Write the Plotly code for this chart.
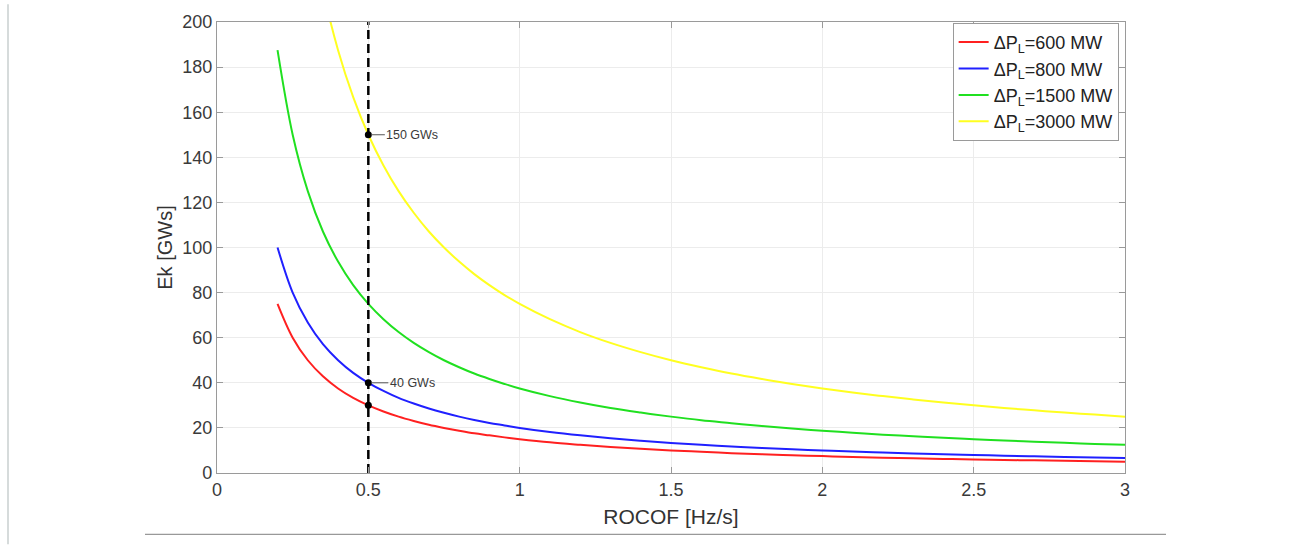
import plotly.graph_objects as go

# ROCOF sample points [Hz/s]
rocof = [0.2, 0.25, 0.3, 0.35, 0.4, 0.45, 0.5, 0.55, 0.6, 0.65, 0.7, 0.75, 0.8, 0.85,
         0.9, 0.95, 1.0, 1.1, 1.2, 1.3, 1.4, 1.5, 1.6, 1.7, 1.8, 1.9, 2.0, 2.1, 2.2,
         2.3, 2.4, 2.5, 2.6, 2.7, 2.8, 2.9, 3.0]

# Kinetic energy Ek [GWs] for each load step
ek_600 = [75, 60, 50, 42.9, 37.5, 33.3, 30, 27.3, 25, 23.1, 21.4, 20, 18.75, 17.6,
          16.7, 15.8, 15, 13.6, 12.5, 11.5, 10.7, 10, 9.4, 8.8, 8.3, 7.9, 7.5, 7.1,
          6.8, 6.5, 6.25, 6, 5.8, 5.6, 5.4, 5.2, 5]
ek_800 = [100, 80, 66.7, 57.1, 50, 44.4, 40, 36.4, 33.3, 30.8, 28.6, 26.7, 25, 23.5,
          22.2, 21.1, 20, 18.2, 16.7, 15.4, 14.3, 13.3, 12.5, 11.8, 11.1, 10.5, 10,
          9.5, 9.1, 8.7, 8.3, 8, 7.7, 7.4, 7.1, 6.9, 6.7]
ek_1500 = [187.5, 150, 125, 107.1, 93.75, 83.3, 75, 68.2, 62.5, 57.7, 53.6, 50, 46.9,
           44.1, 41.7, 39.5, 37.5, 34.1, 31.25, 28.8, 26.8, 25, 23.4, 22.1, 20.8, 19.7,
           18.75, 17.9, 17.0, 16.3, 15.6, 15, 14.4, 13.9, 13.4, 12.9, 12.5]
ek_3000 = [375, 300, 250, 214.3, 187.5, 166.7, 150, 136.4, 125, 115.4, 107.1, 100,
           93.75, 88.2, 83.3, 78.9, 75, 68.2, 62.5, 57.7, 53.6, 50, 46.9, 44.1, 41.7,
           39.5, 37.5, 35.7, 34.1, 32.6, 31.25, 30, 28.8, 27.8, 26.8, 25.9, 25]

series_names = ["ΔP<sub>L</sub>=600 MW", "ΔP<sub>L</sub>=800 MW",
                "ΔP<sub>L</sub>=1500 MW", "ΔP<sub>L</sub>=3000 MW"]
series_colors = ["#ff2020", "#2020ff", "#20e020", "#ffff20"]

# Highlighted operating point
ref_rocof = 0.5
marked_ek = [150, 40, 30]
labeled_ek = [150, 40]

x_ticks = [0, 0.5, 1, 1.5, 2, 2.5, 3]
x_tick_text = ["0", "0.5", "1", "1.5", "2", "2.5", "3"]
y_ticks = list(range(0, 201, 20))

W, H = 1301, 545
L, R, T, B = 217, 1125, 18, 473
FONT = "Liberation Sans, Arial, Helvetica"

fig = go.Figure()
for ys, name, col in zip([ek_600, ek_800, ek_1500, ek_3000], series_names, series_colors):
    fig.add_trace(go.Scatter(x=rocof, y=ys, mode="lines", name=name,
                             line=dict(color=col, width=2, shape="spline", smoothing=1.0)))

# vertical dashed reference line at ROCOF = 0.5 Hz/s
fig.add_trace(go.Scatter(x=[ref_rocof, ref_rocof], y=[0, 200], mode="lines",
                         line=dict(color="black", width=2.5, dash="9px,5px"),
                         showlegend=False, hoverinfo="skip"))
fig.add_trace(go.Scatter(x=[ref_rocof] * len(marked_ek), y=marked_ek, mode="markers",
                         marker=dict(color="black", size=7), showlegend=False,
                         cliponaxis=False))

for v in labeled_ek:
    fig.add_annotation(x=ref_rocof, y=v, text=f"{v} GWs", showarrow=True,
                       arrowhead=0, arrowwidth=1, arrowcolor="#555", standoff=3,
                       ax=44, ay=0, font=dict(size=12.5, color="#3a3a3a", family=FONT))


def px(xp):
    return (xp - L) / (R - L)


def py(yp):
    return (B - yp) / (B - T)


# page decorations: left rule and bottom rule
fig.add_shape(type="line", xref="paper", yref="paper", x0=px(8), x1=px(8),
              y0=py(0), y1=py(545), line=dict(color="#d6dbdb", width=2))
fig.add_shape(type="line", xref="paper", yref="paper", x0=px(145), x1=px(1166),
              y0=py(535), y1=py(535), line=dict(color="#999999", width=1.2))

axis_common = dict(showline=True, linecolor="#9a9a9a", linewidth=1.2, mirror="ticks",
                   ticks="inside", ticklen=6, tickcolor="#9a9a9a",
                   showgrid=True, gridcolor="#ececec", gridwidth=1, zeroline=False,
                   tickfont=dict(size=18, color="#3a3a3a", family=FONT))

fig.update_layout(
    width=W, height=H,
    margin=dict(l=L, r=W - R, t=T, b=H - B),
    paper_bgcolor="white", plot_bgcolor="white",
    xaxis=dict(range=[0, 3], tickvals=x_ticks, ticktext=x_tick_text,
               title=dict(text="ROCOF [Hz/s]", standoff=10,
                          font=dict(size=21, color="#333", family=FONT)),
               **axis_common),
    yaxis=dict(range=[0, 200], tickvals=y_ticks,
               title=dict(text="Ek [GWs]", standoff=4,
                          font=dict(size=20, color="#333", family=FONT)),
               **axis_common),
    legend=dict(x=0.993, y=0.998, xanchor="right", yanchor="top",
                bgcolor="white", bordercolor="#9a9a9a", borderwidth=1,
                font=dict(size=18, color="#222", family=FONT),
                tracegroupgap=0, itemwidth=30),
    showlegend=True,
)

fig.write_html("out.html")
